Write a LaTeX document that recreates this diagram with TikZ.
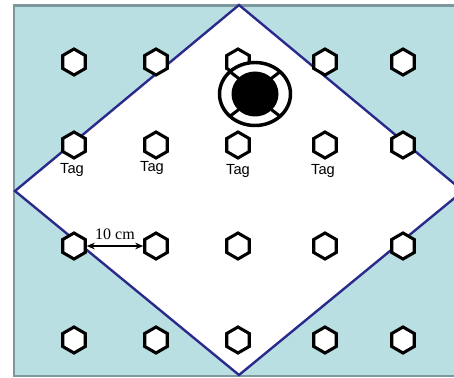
\documentclass[tikz,border=0pt]{standalone}
\usepackage{fontspec}
\setmainfont{Liberation Serif}
\setsansfont{Liberation Sans}
\usetikzlibrary{shapes.geometric,arrows.meta}

\definecolor{poolblue}{RGB}{185,223,227}
\definecolor{edgegray}{RGB}{125,152,157}
\definecolor{zonenavy}{RGB}{42,42,140}

\tikzset{
	tagnode/.style={regular polygon, regular polygon sides=6, shape border rotate=30,
		draw=black, fill=white, line width=2.3pt, minimum size=19.5pt, inner sep=0pt},
	taglabel/.style={font=\sffamily\fontsize{11}{13}\selectfont, inner sep=0pt},
}

\begin{document}
\begin{tikzpicture}[x=0.75pt,y=-0.75pt]
	\useasboundingbox (0,0) rectangle (454,378);
	\clip (0,0) rectangle (454,378);

	% Pool (background) and the zone covered by the reader
	\draw[edgegray, line width=1.6pt, fill=poolblue] (14,5.5) rectangle (480,376);
	\draw[zonenavy, line width=1.8pt, fill=white] (239,5) -- (463,191) -- (239,375) -- (15,191) -- cycle;

	% Grid of tags
	\foreach \y [count=\r] in {62,145,246,340} {
		\foreach \x [count=\c] in {74,156,238,325,403} {
			\node[tagnode] (h\r\c) at (\x,\y) {};
		}
	}

	% Reader (life buoy)
	\begin{scope}[shift={(255,94)}]
		\draw[line width=2.6pt, fill=white] (0,0) ellipse (35.5 and 31.5);
		\fill[black] (0,0) ellipse (23.5 and 22.5);
		\foreach \a in {45,135,225,315}
			\draw[line width=2.3pt] (\a:23 and 22) -- (\a:35.5 and 31.5);
	\end{scope}

	% Labels under the second row
	\node[taglabel] (tag1) at (72,170) {Tag};
	\node[taglabel] (tag2) at (152,168) {Tag};
	\node[taglabel] (tag3) at (238,171) {Tag};
	\node[taglabel] (tag4) at (323,171) {Tag};

	% Spacing between two tags
	\draw[{Stealth[length=6pt,width=5pt]}-{Stealth[length=6pt,width=5pt]}, line width=1.5pt]
		(h31) -- (h32) node[midway, above=4pt, font=\fontsize{12}{14}\selectfont, inner sep=0pt] (dist) {10 cm};
\end{tikzpicture}
\end{document}
